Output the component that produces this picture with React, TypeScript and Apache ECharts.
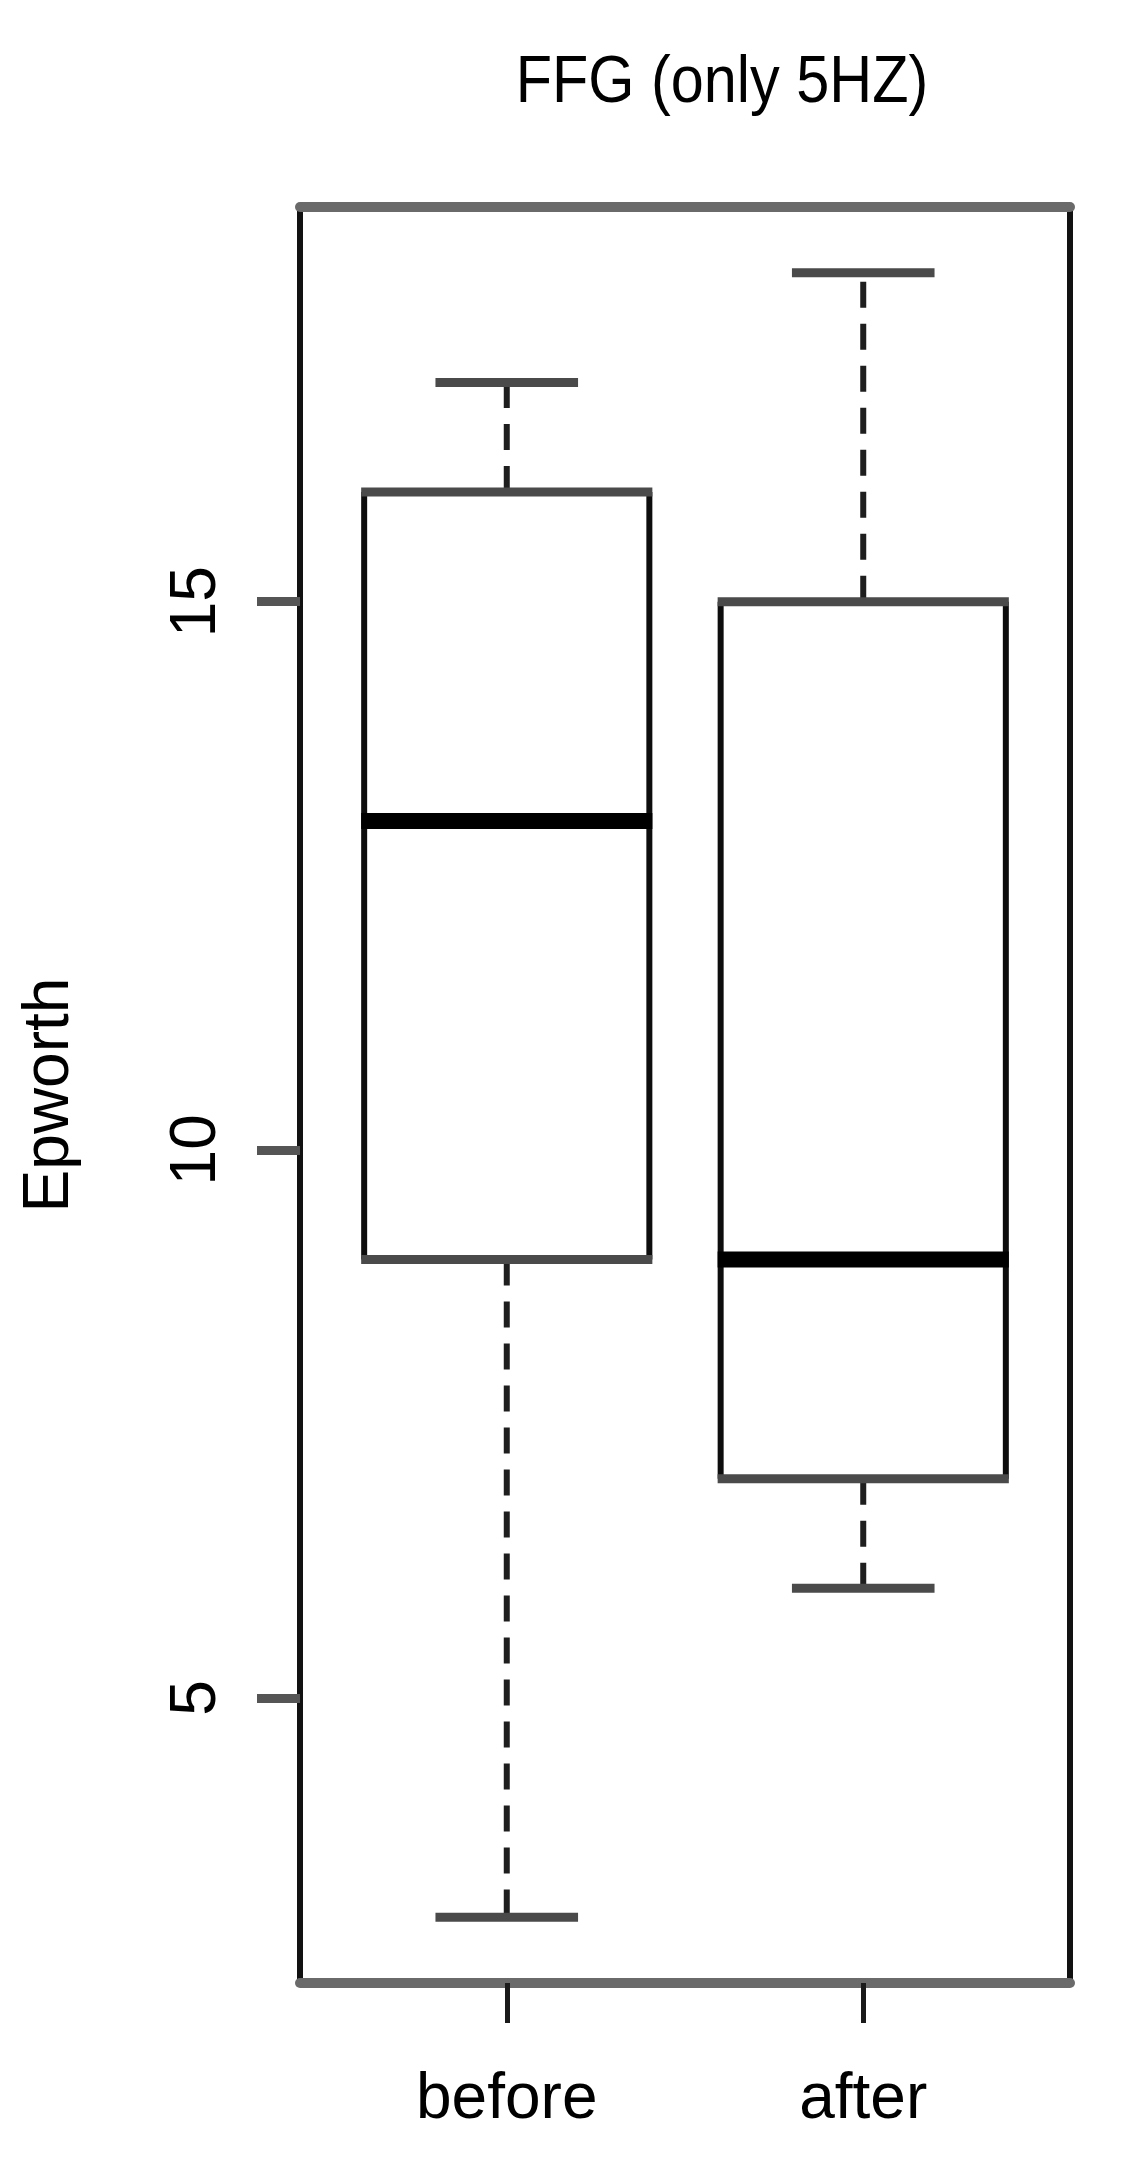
import React, { useEffect, useRef } from "react";
import * as echarts from "echarts";

// ---- data ----
const TITLE = "FFG (only 5HZ)";
const Y_NAME = "Epworth";
const CATEGORIES = ["before", "after"];
const WHISKER_LOW = [3, 6];
const Q1 = [9, 7];
const MEDIAN = [13, 9];
const Q3 = [16, 15];
const WHISKER_HIGH = [17, 18];
const Y_TICKS = [5, 10, 15];

const FONT = "'Liberation Sans', Arial, Helvetica, sans-serif";

export default function App() {
  const ref = useRef<HTMLDivElement>(null);

  useEffect(() => {
    if (!ref.current) return;
    const chart = echarts.init(ref.current, undefined, { renderer: "svg" });

    // R-style axis ranges: data range extended by 4% on each side
    const n = CATEGORIES.length;
    const xPos = CATEGORIES.map((_, i) => i + 1);
    const xMin = 0.5 - 0.04 * n;
    const xMax = n + 0.5 + 0.04 * n;
    const lo = Math.min(...WHISKER_LOW);
    const hi = Math.max(...WHISKER_HIGH);
    const yMin = lo - 0.04 * (hi - lo);
    const yMax = hi + 0.04 * (hi - lo);

    const data = CATEGORIES.map((_, i) => [
      xPos[i],
      WHISKER_LOW[i],
      Q1[i],
      MEDIAN[i],
      Q3[i],
      WHISKER_HIGH[i],
    ]);

    const BOX_HALF = 0.4;
    const STAPLE_HALF = 0.2;

    const dashStyle = { stroke: "#1e1e1e", lineWidth: 6, lineDash: [26, 16] };
    const capStyle = { stroke: "#4a4a4a", lineWidth: 9 };
    const boxH = { stroke: "#4a4a4a", lineWidth: 9 };
    const boxV = { stroke: "#0d0d0d", lineWidth: 6 };
    const medStyle = { stroke: "#000", lineWidth: 16 };

    const renderItem = (_params: any, api: any) => {
      const x = api.value(0);
      const vLo = api.value(1);
      const vQ1 = api.value(2);
      const vMed = api.value(3);
      const vQ3 = api.value(4);
      const vHi = api.value(5);
      const pt = (a: number, b: number) => api.coord([a, b]);
      const hLine = (a1: number, a2: number, v: number, style: any, ext = 0) => {
        const p1 = pt(a1, v);
        const p2 = pt(a2, v);
        return {
          type: "line",
          shape: { x1: p1[0] - ext, y1: p1[1], x2: p2[0] + ext, y2: p2[1] },
          style,
        };
      };
      const vLine = (a: number, v1: number, v2: number, style: any) => {
        const p1 = pt(a, v1);
        const p2 = pt(a, v2);
        return {
          type: "line",
          shape: { x1: p1[0], y1: p1[1], x2: p2[0], y2: p2[1] },
          style,
        };
      };
      return {
        type: "group",
        children: [
          vLine(x, vQ3, vHi, dashStyle),
          vLine(x, vQ1, vLo, dashStyle),
          hLine(x - STAPLE_HALF, x + STAPLE_HALF, vHi, capStyle),
          hLine(x - STAPLE_HALF, x + STAPLE_HALF, vLo, capStyle),
          vLine(x - BOX_HALF, vQ1, vQ3, boxV),
          vLine(x + BOX_HALF, vQ1, vQ3, boxV),
          hLine(x - BOX_HALF, x + BOX_HALF, vQ3, boxH, 3),
          hLine(x - BOX_HALF, x + BOX_HALF, vQ1, boxH, 3),
          hLine(x - BOX_HALF, x + BOX_HALF, vMed, medStyle, 3),
        ],
      };
    };

    const textBase = {
      color: "#000",
      fontSize: 64,
      lineHeight: 64,
      fontFamily: FONT,
    };

    const option: any = {
      animation: false,
      backgroundColor: "#ffffff",
      grid: {
        left: 300,
        right: 52,
        top: 207,
        bottom: 183,
        containLabel: false,
        outerBoundsMode: "none",
      },
      xAxis: [
        {
          type: "value",
          position: "bottom",
          min: xMin,
          max: xMax,
          axisLine: { show: true, onZero: false, lineStyle: { color: "#6a6a6a", width: 10 } },
          axisTick: {
            show: true,
            customValues: xPos,
            length: 40,
            lineStyle: { color: "#1a1a1a", width: 5 },
          },
          axisLabel: {
            show: true,
            customValues: xPos,
            margin: 81,
            formatter: (v: number) => CATEGORIES[Math.round(v) - 1] ?? "",
            ...textBase,
          },
          splitLine: { show: false },
        },
        {
          type: "value",
          position: "top",
          min: xMin,
          max: xMax,
          axisLine: { show: true, onZero: false, lineStyle: { color: "#6a6a6a", width: 10 } },
          axisTick: { show: false },
          axisLabel: { show: false },
          splitLine: { show: false },
        },
      ],
      yAxis: [
        {
          type: "value",
          position: "left",
          min: yMin,
          max: yMax,
          axisLine: { show: true, onZero: false, lineStyle: { color: "#111", width: 6 } },
          axisTick: {
            show: true,
            customValues: Y_TICKS,
            length: 43,
            lineStyle: { color: "#555", width: 9 },
          },
          axisLabel: {
            show: true,
            customValues: Y_TICKS,
            rotate: 90,
            margin: 75,
            ...textBase,
          },
          splitLine: { show: false },
          name: Y_NAME,
          nameLocation: "middle",
          nameRotate: 90,
          nameGap: 222,
          nameTextStyle: { ...textBase },
        },
        {
          type: "value",
          position: "right",
          min: yMin,
          max: yMax,
          axisLine: { show: true, onZero: false, lineStyle: { color: "#111", width: 6 } },
          axisTick: { show: false },
          axisLabel: { show: false },
          splitLine: { show: false },
        },
      ],
      series: [
        {
          type: "custom",
          xAxisIndex: 0,
          yAxisIndex: 0,
          renderItem,
          encode: { x: 0, y: [1, 2, 3, 4, 5] },
          data,
          clip: false,
        },
      ],
      graphic: [
        {
          type: "text",
          x: 722,
          y: 78.5,
          scaleX: 0.9,
          style: {
            text: TITLE,
            fill: "#000",
            fontSize: 66,
            fontFamily: FONT,
            textAlign: "center",
            textVerticalAlign: "middle",
          },
        },
      ],
    };

    chart.setOption(option);
    return () => chart.dispose();
  }, []);

  return (
    <div
      ref={ref}
      style={{ position: "absolute", left: 0, top: 0, width: 1122, height: 2166, background: "#fff" }}
    />
  );
}
